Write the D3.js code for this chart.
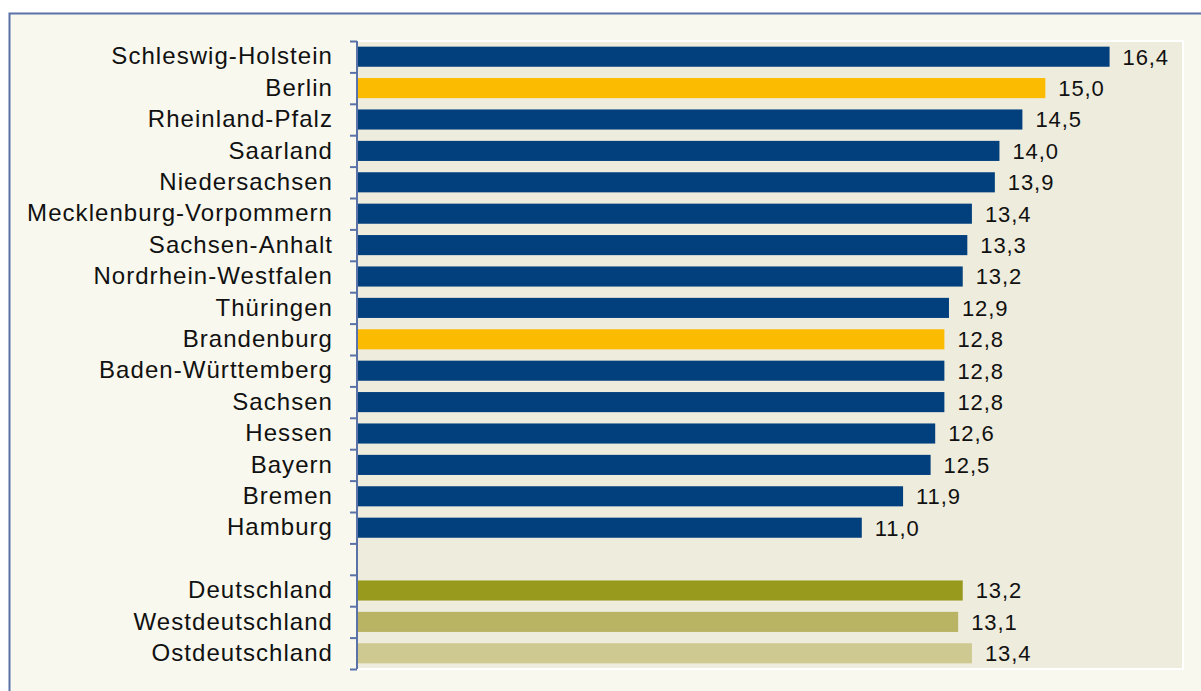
<!DOCTYPE html>
<html>
<head>
<meta charset="utf-8">
<script src="https://cdn.jsdelivr.net/npm/d3@7"></script>
<style>
  body { margin: 0; background: #ffffff; }
  text { font-family: "Liberation Sans", Arial, sans-serif; fill: #111; }
</style>
</head>
<body>
<svg width="1201" height="691"></svg>
<script>
var laender = ["Schleswig-Holstein", "Berlin", "Rheinland-Pfalz", "Saarland", "Niedersachsen",
  "Mecklenburg-Vorpommern", "Sachsen-Anhalt", "Nordrhein-Westfalen", "Thüringen", "Brandenburg",
  "Baden-Württemberg", "Sachsen", "Hessen", "Bayern", "Bremen", "Hamburg",
  "", "Deutschland", "Westdeutschland", "Ostdeutschland"];
var werte = [16.4, 15.0, 14.5, 14.0, 13.9, 13.4, 13.3, 13.2, 12.9, 12.8, 12.8, 12.8, 12.6, 12.5, 11.9, 11.0,
  null, 13.2, 13.1, 13.4];
var farben = ["#013f7d", "#fbbb00", "#013f7d", "#013f7d", "#013f7d", "#013f7d", "#013f7d", "#013f7d",
  "#013f7d", "#fbbb00", "#013f7d", "#013f7d", "#013f7d", "#013f7d", "#013f7d", "#013f7d",
  null, "#989a1e", "#b8b464", "#cec891"];

var all = [];
for (var i = 0; i < laender.length; i++) {
  all.push({i: i, name: laender[i], wert: werte[i], farbe: farben[i]});
}

var svg = d3.select("svg");

// outer frame
svg.append("rect").attr("x", 9.5).attr("y", 13.5).attr("width", 1250).attr("height", 720)
  .attr("fill", "#f8f8ee").attr("stroke", "#5a72a8").attr("stroke-width", 2);

var pLeft = 357, pRight = 1183, pTop = 41, pBottom = 669;

// plot area
svg.append("rect").attr("x", pLeft).attr("y", pTop).attr("width", pRight - pLeft).attr("height", pBottom - pTop)
  .attr("fill", "#eeecdd").attr("stroke", "#ffffff").attr("stroke-width", 2);

var x = d3.scaleLinear().domain([0, 18]).range([pLeft, pRight]);
var y = d3.scaleBand().domain(d3.range(laender.length)).range([pTop, pBottom]).paddingInner(0.36).paddingOuter(0.18);
var yt = d3.scaleLinear().domain([0, laender.length]).range([pTop, pBottom]);

var balken = all.filter(function(d){ return d.wert != null; });

svg.selectAll("rect.bar").data(balken).enter().append("rect")
  .attr("class", "bar")
  .attr("x", x(0))
  .attr("y", function(d){ return y(d.i); })
  .attr("width", function(d){ return x(d.wert) - x(0); })
  .attr("height", y.bandwidth())
  .attr("fill", function(d){ return d.farbe; });

// values
svg.selectAll("text.wert").data(balken).enter().append("text")
  .attr("class", "wert")
  .attr("x", function(d){ return x(d.wert) + 13; })
  .attr("y", function(d){ return y(d.i) + y.bandwidth() / 2; })
  .attr("dy", "0.36em")
  .style("font-size", "22px")
  .style("letter-spacing", "0.9px")
  .text(function(d){ return d3.format(".1f")(d.wert).replace(".", ","); });

// tick marks on category boundaries
var ticks = svg.append("g").attr("transform", "translate(" + pLeft + ",0)")
  .call(d3.axisLeft(yt).tickValues(d3.range(laender.length + 1)).tickSize(7).tickFormat(""));
ticks.selectAll("line").attr("stroke", "#5a72a8").attr("stroke-width", 2);
ticks.select(".domain").attr("stroke", "#5a72a8").attr("stroke-width", 2).attr("d", "M0," + pTop + "V" + pBottom);

// category labels
var lab = svg.append("g").attr("transform", "translate(" + pLeft + ",0)")
  .call(d3.axisLeft(y).tickSize(0).tickPadding(24).tickFormat(function(i){ return laender[i]; }));
lab.select(".domain").remove();
lab.selectAll("text").style("font-size", "24px").style("letter-spacing", "1.05px")
  .style("font-family", "Liberation Sans, Arial, sans-serif").attr("fill", "#111");
</script>
</body>
</html>
